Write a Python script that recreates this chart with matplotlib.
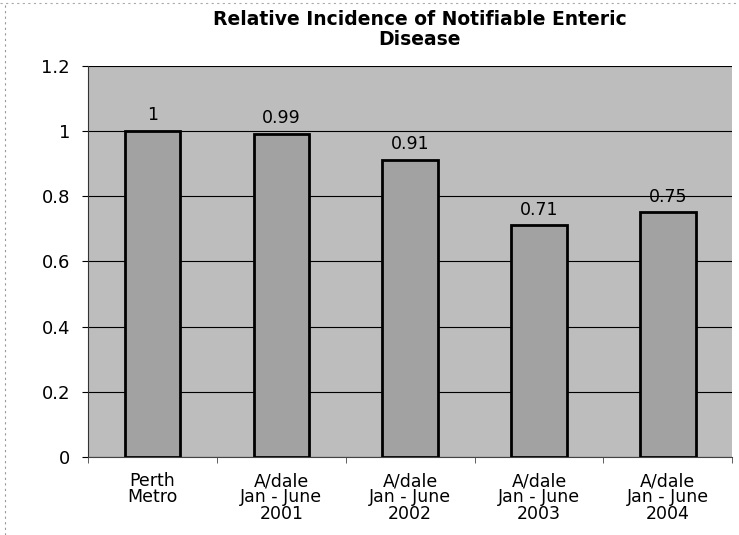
import matplotlib
matplotlib.use("Agg")
import matplotlib.pyplot as plt
import numpy as np

categories = ["Perth\nMetro", "A/dale\nJan - June\n2001", "A/dale\nJan - June\n2002",
              "A/dale\nJan - June\n2003", "A/dale\nJan - June\n2004"]
values = [1.0, 0.99, 0.91, 0.71, 0.75]
value_labels = ["1", "0.99", "0.91", "0.71", "0.75"]
yticks = [0, 0.2, 0.4, 0.6, 0.8, 1.0, 1.2]
ytick_labels = ["0", "0.2", "0.4", "0.6", "0.8", "1", "1.2"]

plt.rcParams['font.family'] = ['DejaVu Sans']

fig = plt.figure(figsize=(7.39, 5.35), dpi=100)
ax = fig.add_axes([0.119, 0.146, 0.872, 0.731])
ax.set_facecolor('#bdbdbd')

x = np.arange(len(categories))
ax.bar(x, values, width=0.43, color='#a2a2a2', edgecolor='black', linewidth=2.0, zorder=3)
for xi, v, lab in zip(x, values, value_labels):
    ax.annotate(lab, (xi, v), xytext=(0, 5), textcoords='offset points',
                ha='center', va='bottom', fontsize=12.5, zorder=4)

ax.set_xlim(-0.5, len(categories) - 0.5)
ax.set_ylim(0, 1.2)
ax.set_yticks(yticks)
ax.set_yticklabels(ytick_labels, fontsize=13)
ax.set_xticks(x)
ax.set_xticklabels(categories, fontsize=12.5, linespacing=0.88)
ax.set_xticks(np.arange(len(categories) + 1) - 0.5, minor=True)
ax.yaxis.grid(True, color='black', linewidth=0.8, zorder=1)
ax.set_axisbelow(True)
for s in ['top', 'right']:
    ax.spines[s].set_visible(False)
ax.spines['left'].set_color('#333333')
ax.spines['bottom'].set_color('#444444')
ax.tick_params(axis='x', which='major', length=0, pad=11)
ax.tick_params(axis='x', which='minor', length=4, color='#444444')
ax.tick_params(axis='y', length=4, pad=9)

fig.text(0.568, 0.945, "Relative Incidence of Notifiable Enteric\nDisease", ha='center', va='center',
         fontsize=13.5, fontweight='bold', linespacing=1.1)

# faint dotted page border seen in the scan
fig.add_artist(plt.Line2D([0.007, 0.007], [0.0, 0.995], transform=fig.transFigure,
                          color='#999999', linewidth=0.8, linestyle=(0, (2, 3))))
fig.add_artist(plt.Line2D([0.0, 1.0], [0.995, 0.995], transform=fig.transFigure,
                          color='#aaaaaa', linewidth=0.8, linestyle=(0, (2, 3))))

fig.savefig("out.png", dpi=100)
